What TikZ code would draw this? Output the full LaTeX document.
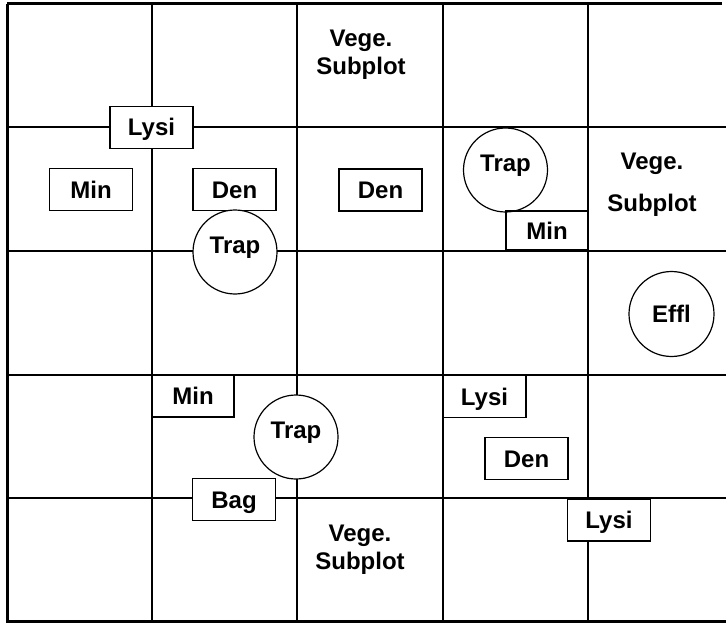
\documentclass[tikz,border=0pt]{standalone}
\usepackage{fontspec}
\setmainfont{Liberation Sans}
\usetikzlibrary{positioning}

\begin{document}
\begin{tikzpicture}[
    x=1pt, y=-1pt,
    grid/.style={line width=2.6pt},
    box/.style={rectangle, draw, fill=white, line width=1.2pt, minimum width=83pt, minimum height=42pt,
        text height=17pt, text depth=0pt, font=\fontsize{24}{28}\selectfont\bfseries},
    trap/.style={circle, draw, fill=white, line width=1.2pt, minimum size=84pt, inner sep=0pt,
        text height=17pt, text depth=14pt, font=\fontsize{24}{28}\selectfont\bfseries},
    effl/.style={trap, minimum size=85pt, text depth=0pt},
    vege/.style={align=center, font=\fontsize{24}{28}\selectfont\bfseries}
]
    \useasboundingbox (0,0) rectangle (726,623);
    % plot grid
    \draw[line width=3pt] (7,4) -- (722,4);
    \draw[line width=3pt] (7,4) -- (7,621) -- (726,621);
    \foreach \gx in {152,297,443,588}
        \draw[grid] (\gx,4) -- (\gx,621);
    \foreach \gy in {127,251,375,498}
        \draw[grid] (7,\gy) -- (726,\gy);

    % row 1 and 2
    \node[vege] (vege1) at (361,55) {Vege.\\Subplot};
    \node[box] (lysi1) at (151.5,127.5) {Lysi};
    \node[box] (min1) at (91,189.5) {Min};
    \node[box] (den1) at (234.5,189.5) {Den};
    \node[trap] (trap1) at (235,252) {Trap};
    \node[box] (den2) at (380.5,190) {Den};
    \node[trap] (trap2) at (505.5,170) {Trap};
    \node[box, fill=none, minimum width=82pt, minimum height=39pt] (min2) at (547,230.5) {Min};
    \node[vege] (vege2) at (652,185) {Vege.\\[14pt]Subplot};

    % row 3
    \node[effl] (effl) at (671.5,314) {Effl};

    % row 4 and 5
    \node[box, fill=none, minimum width=82pt] (min3) at (193,396) {Min};
    \node[trap] (trap3) at (296,437) {Trap};
    \node[box] (bag) at (234,499.5) {Bag};
    \node[box, fill=none] (lysi2) at (484.5,396.5) {Lysi};
    \node[box] (den3) at (526.5,458.5) {Den};
    \node[box] (lysi3) at (609,520) {Lysi};
    \node[vege] (vege3) at (360,550) {Vege.\\Subplot};
\end{tikzpicture}
\end{document}
